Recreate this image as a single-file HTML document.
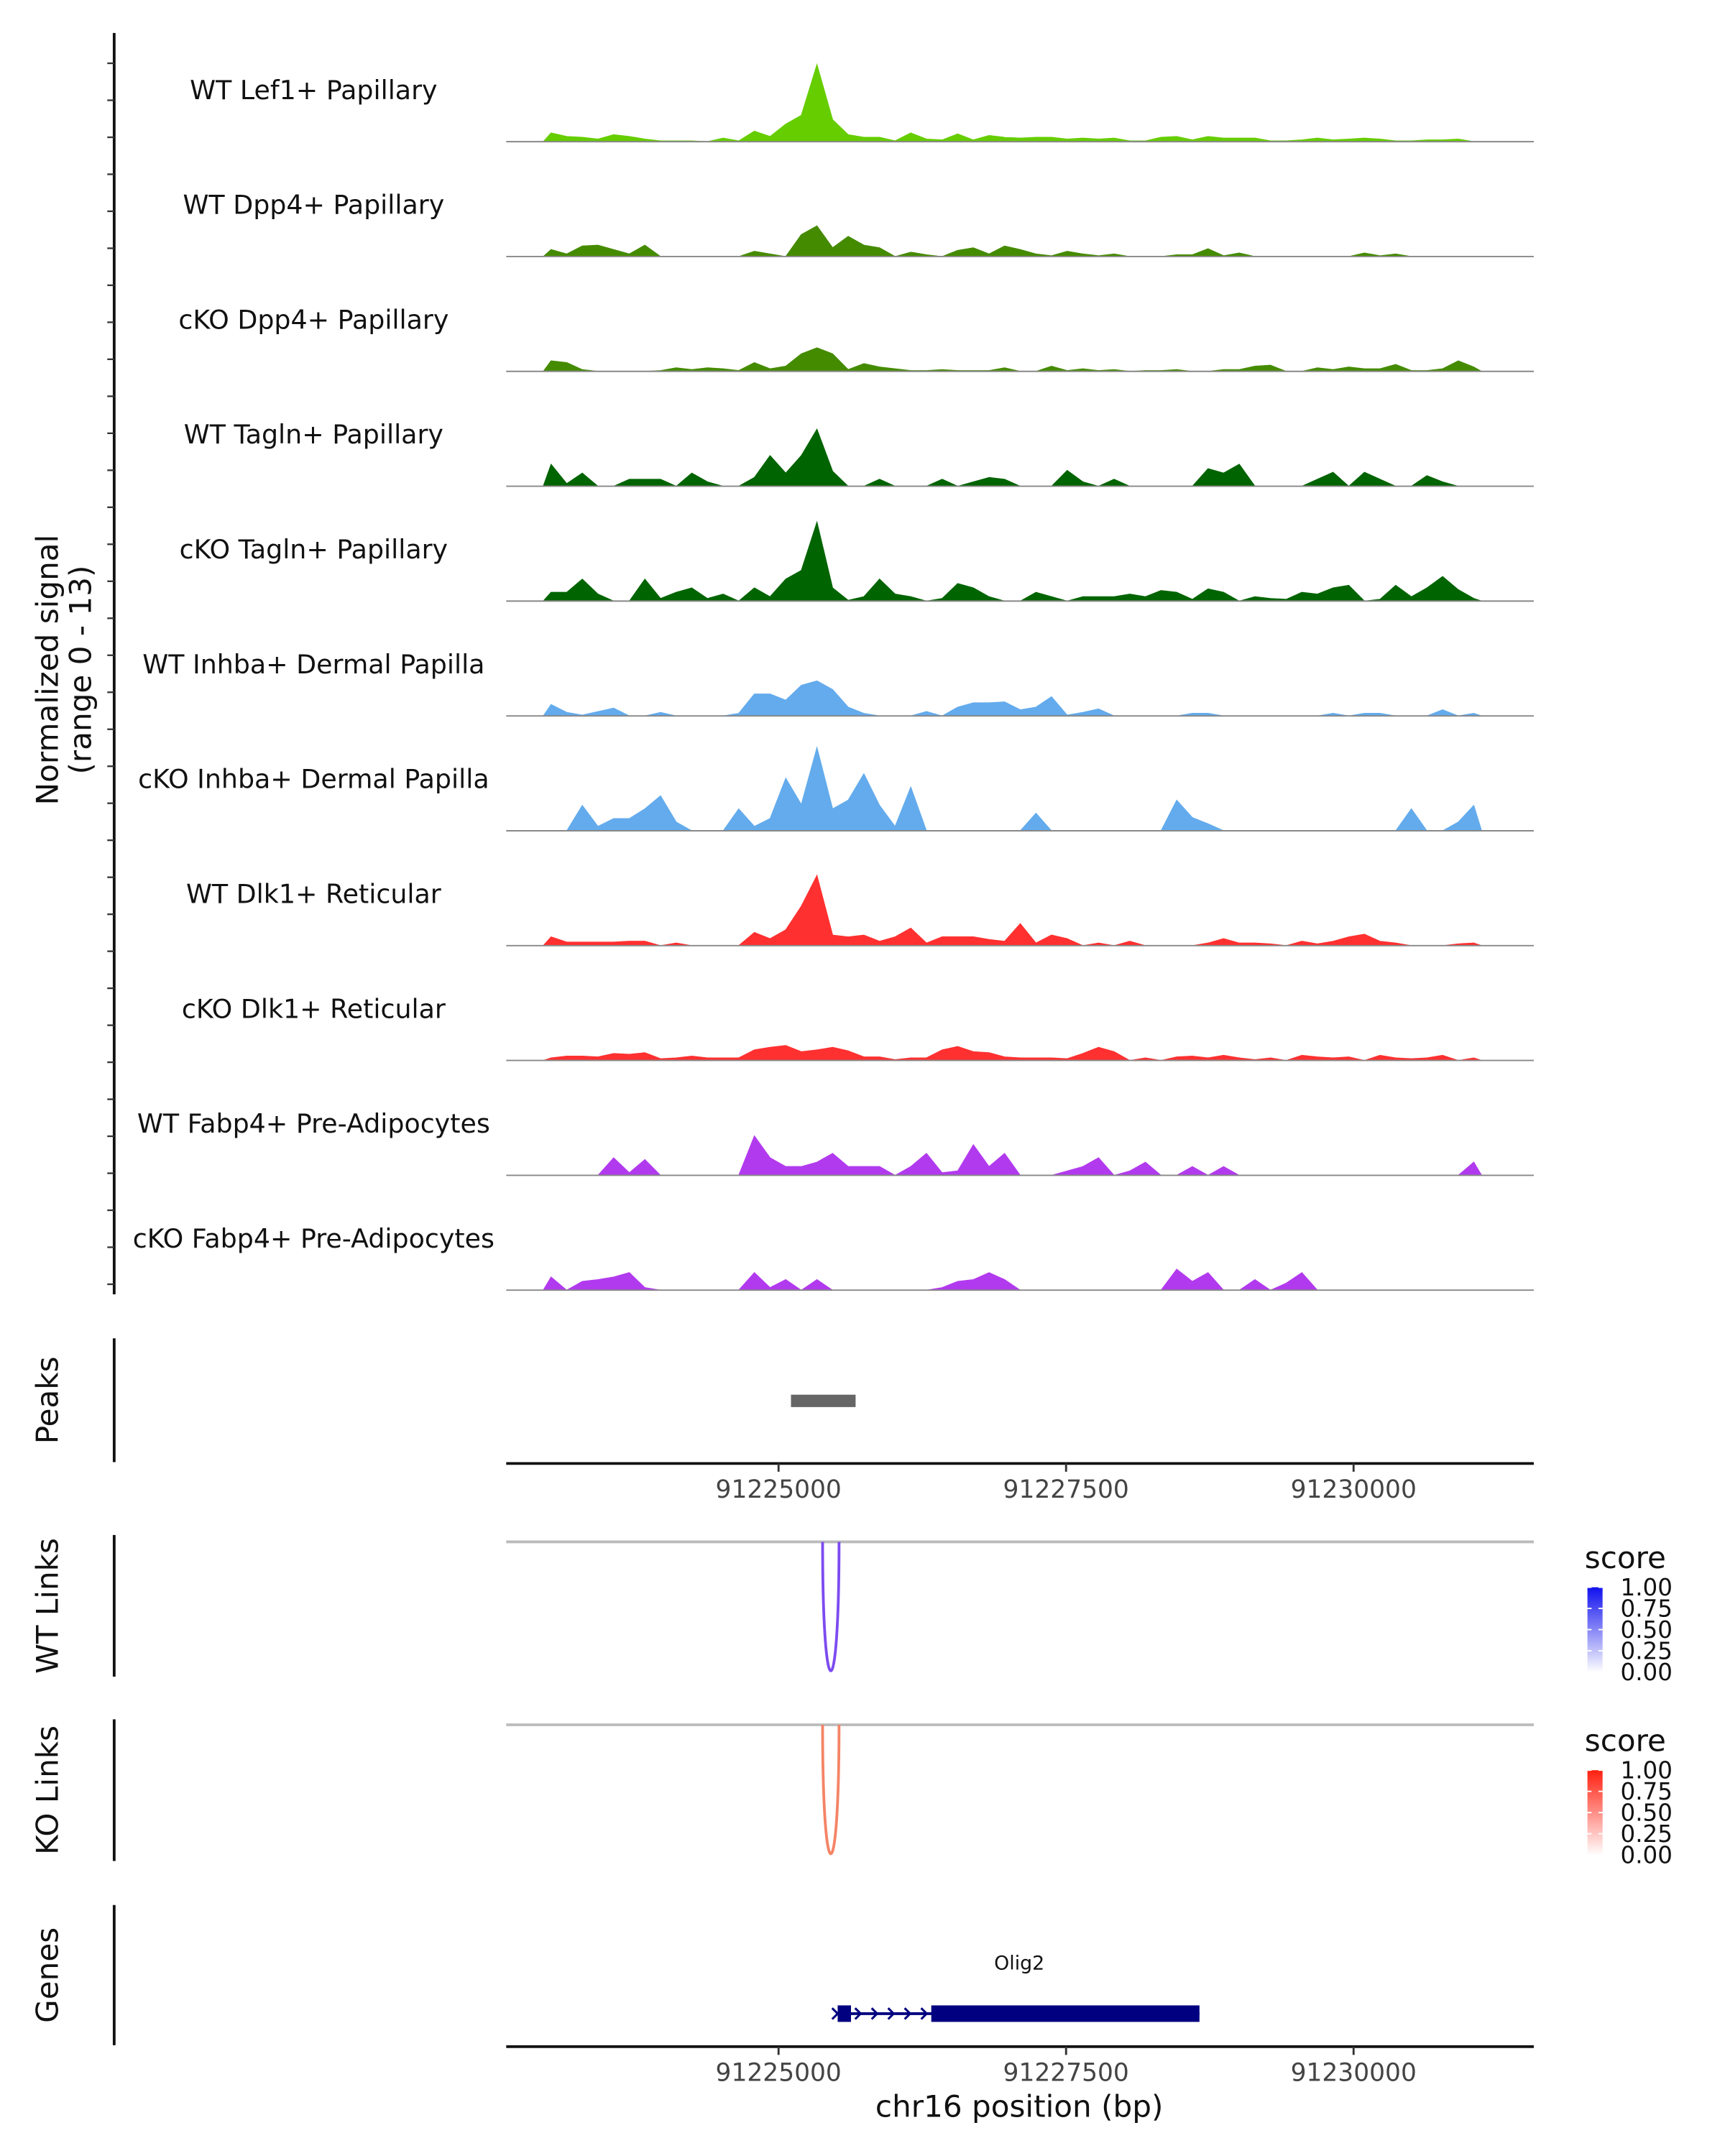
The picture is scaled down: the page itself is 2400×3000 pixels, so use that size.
<!DOCTYPE html>
<html><head><meta charset="utf-8"><style>
html,body{margin:0;padding:0;background:#fff}
svg{display:block}
text{font-family:"DejaVu Sans","Liberation Sans",sans-serif}
</style></head><body>
<svg id="chart" width="2400" height="3000" viewBox="0 0 1254 1567.5" xmlns="http://www.w3.org/2000/svg">
<g id="tracks"></g>
<g id="ytitle">
<text x="42" y="487" font-size="22" text-anchor="middle" fill="#111" transform="rotate(-90 42 487)">Normalized signal</text>
<text x="66" y="487" font-size="22" text-anchor="middle" fill="#111" transform="rotate(-90 66 487)">(range 0 - 13)</text>
</g>
<g id="others"></g>
</svg>
<script>
const NS='http://www.w3.org/2000/svg';
// ---- data ----
const trackNames=["WT Lef1+ Papillary","WT Dpp4+ Papillary","cKO Dpp4+ Papillary","WT Tagln+ Papillary","cKO Tagln+ Papillary","WT Inhba+ Dermal Papilla","cKO Inhba+ Dermal Papilla","WT Dlk1+ Reticular","cKO Dlk1+ Reticular","WT Fabp4+ Pre-Adipocytes","cKO Fabp4+ Pre-Adipocytes"];
const trackColors=["#66CD00","#458B00","#458B00","#006400","#006400","#63ABEC","#63ABEC","#FF3030","#FF3030","#B23AEE","#B23AEE"];
const binStart=91222954;
const binWidth=136;
const sigLef1WT=[1.0,0.6,0.5,0.3,0.8,0.6,0.3,0.1,0.1,0.1,0,0.4,0.1,1.2,0.6,2.0,3.0,8.8,2.5,0.8,0.5,0.5,0.1,1.0,0.3,0.2,0.9,0.2,0.7,0.5,0.4,0.5,0.5,0.3,0.4,0.3,0.4,0.1,0.1,0.5,0.6,0.2,0.6,0.4,0.4,0.4,0.1,0.1,0.2,0.4,0.2,0.3,0.4,0.3,0.1,0.1,0.2,0.2,0.3,0];
const sigDpp4WT=[0.8,0.3,1.2,1.3,0.8,0.3,1.3,0,0,0,0,0,0,0.6,0.3,0,2.5,3.5,1.0,2.3,1.3,1.0,0,0.5,0.2,0,0.7,1.0,0.3,1.2,0.8,0.3,0.1,0.6,0.3,0.1,0.3,0,0,0,0.2,0.2,0.9,0.1,0.4,0,0,0,0,0,0,0,0.4,0.1,0.3,0,0,0,0,0];
const sigDpp4KO=[1.2,1.0,0.2,0,0,0,0,0.1,0.4,0.2,0.4,0.3,0.1,1.0,0.3,0.6,2.0,2.7,2.0,0.2,0.9,0.5,0.3,0.1,0.1,0.2,0.1,0.1,0.1,0.4,0,0,0.6,0.1,0.3,0.1,0.2,0,0.1,0.1,0.2,0,0,0.2,0.2,0.6,0.7,0,0,0.4,0.2,0.5,0.3,0.3,0.8,0.1,0.1,0.3,1.2,0.5];
const sigTaglnWT=[2.5,0.3,1.5,0,0,0.8,0.8,0.8,0,1.5,0.5,0,0,1.0,3.5,1.5,3.5,6.5,1.7,0,0,0.8,0,0,0,0.8,0,0.5,1.0,0.8,0,0,0,1.8,0.5,0,0.8,0,0,0,0,0,2.0,1.5,2.5,0,0,0,0,0.8,1.6,0,1.6,0.8,0,0,1.2,0.5,0,0];
const sigTaglnKO=[1.0,1.0,2.5,0.8,0,0,2.5,0.3,1.0,1.5,0.3,0.8,0,1.5,0.5,2.5,3.5,9.0,1.5,0.1,0.5,2.5,0.8,0.5,0,0.3,2.0,1.5,0.5,0,0,1.0,0.5,0,0.5,0.5,0.5,0.8,0.5,1.2,1.0,0.2,1.4,1.0,0,0.5,0.3,0.2,1.0,0.8,1.5,1.8,0,0.2,1.8,0.5,1.5,2.8,1.3,0.3];
const sigInhbaWT=[1.3,0.4,0.1,0.5,0.9,0,0,0.4,0,0,0,0,0.3,2.5,2.5,1.8,3.5,4.0,3.0,1.0,0.3,0,0,0,0.5,0,1.0,1.5,1.5,1.6,0.7,1.0,2.2,0.1,0.4,0.8,0,0,0,0,0,0.3,0.3,0,0,0,0,0,0,0,0.3,0,0.3,0.3,0,0,0,0.7,0,0.3];
const sigInhbaKO=[0,0,2.9,0.5,1.4,1.4,2.5,4.0,1.0,0,0,0,2.5,0.5,1.4,6.0,3.0,9.5,2.5,3.5,6.5,2.9,0.5,5.0,0,0,0,0,0,0,0,2.0,0,0,0,0,0,0,0,0,3.5,1.5,0.8,0,0,0,0,0,0,0,0,0,0,0,0,2.5,0,0,1.0,2.9];
const sigDlk1WT=[1.0,0.4,0.4,0.4,0.4,0.5,0.5,0,0.3,0,0,0,0,1.5,0.8,1.8,4.5,8.0,1.2,1.0,1.2,0.5,1.0,2.0,0.3,1.0,1.0,1.0,0.7,0.5,2.5,0.3,1.2,0.8,0,0.3,0,0.5,0,0,0,0,0.3,0.8,0.3,0.3,0.2,0,0.5,0.2,0.5,1.0,1.3,0.5,0.3,0,0,0,0.2,0.3];
const sigDlk1KO=[0.3,0.5,0.5,0.4,0.8,0.7,0.9,0.2,0.3,0.5,0.3,0.3,0.3,1.2,1.5,1.7,1.0,1.2,1.5,1.1,0.4,0.4,0.1,0.3,0.3,1.2,1.6,1.0,0.9,0.4,0.3,0.3,0.3,0.2,0.8,1.5,1.0,0,0.3,0,0.4,0.5,0.3,0.6,0.3,0.1,0.3,0,0.6,0.4,0.3,0.4,0,0.6,0.3,0.2,0.3,0.6,0,0.3];
const sigFabp4WT=[0,0,0,0,2.0,0.3,1.8,0,0,0,0,0,0,4.5,2.0,1.0,1.0,1.5,2.5,1.0,1.0,1.0,0,1.0,2.5,0.3,0.5,3.5,1.0,2.5,0,0,0,0.5,1.0,2.0,0,0.5,1.5,0,0,1.0,0,1.0,0,0,0,0,0,0,0,0,0,0,0,0,0,0,0,1.5];
const sigFabp4KO=[1.5,0,1.0,1.2,1.5,2.0,0.3,0,0,0,0,0,0,2.0,0.3,1.2,0,1.2,0,0,0,0,0,0,0,0.3,1.0,1.2,2.0,1.2,0,0,0,0,0,0,0,0,0,0,2.4,1.0,2.0,0,0,1.2,0,0.8,2.0,0,0,0,0,0,0,0,0,0,0,0];
const trackSignals=[sigLef1WT,sigDpp4WT,sigDpp4KO,sigTaglnWT,sigTaglnKO,sigInhbaWT,sigInhbaKO,sigDlk1WT,sigDlk1KO,sigFabp4WT,sigFabp4KO];
const xTicks=[91225000,91227500,91230000];
const xTickLabels=["91225000","91227500","91230000"];
const peakRegion=[91225108,91225670];
const wtLink=[91225383,91225526];
const wtLinkScore=[0.7];
const koLink=[91225383,91225526];
const koLinkScore=[0.6];
const geneSpan=[91225514,91228660];
const geneThickStart=[91225514,91226328];
const geneThickEnd=[91225630,91228660];
const legendTicks=["1.00","0.75","0.50","0.25","0.00"];
// ---- scales ----
const X0=368,X1=1115,BP0=91222632,BP1=91231567;
function xs(bp){return X0+(bp-BP0)/(BP1-BP0)*(X1-X0);}
const yMax=13,trackH=83.5;
function ys(v){return v/yMax*83;}
const svg=document.getElementById('chart');
const tg=document.getElementById('tracks');
const og=document.getElementById('others');
function mk(tag,attrs,parent){const e=document.createElementNS(NS,tag);for(const k in attrs)e.setAttribute(k,attrs[k]);(parent||svg).appendChild(e);return e;}
let ax=mk('line',{x1:83,y1:24,x2:83,y2:941,stroke:'#111','stroke-width':2},tg);


for(let t=0;t<34;t++){const y=46+t*26.9;if(y>941)break;const tk=mk('line',{x1:78,y1:y,x2:83,y2:y,stroke:'#333','stroke-width':1.2},tg);

}
trackNames.forEach((nm,k)=>{
 const base=103+k*trackH;
 const g=mk('g',{},tg);
 
 
 const vals=trackSignals[k];
 let d='M'+xs(binStart).toFixed(1)+','+base;
 vals.forEach((v,i)=>{const cx=xs(binStart+(i+0.5)*binWidth);d+=' L'+cx.toFixed(1)+','+(base-ys(v)).toFixed(1);});
 d+=' L'+xs(binStart+vals.length*binWidth).toFixed(1)+','+base+' Z';
 const p=mk('path',{d:d,fill:trackColors[k],stroke:trackColors[k],'stroke-width':0.5},g);
 
 
 const bl=mk('line',{x1:X0,y1:base,x2:X1,y2:base,stroke:'#888','stroke-width':1},g);
 
 
 const lb=mk('text',{x:228,y:base-31,'font-size':19,'text-anchor':'middle',fill:'#111'},g);
 lb.textContent=nm;
 
 
});
function panelAxis(y1,y2,label,name){
 const a=mk('line',{x1:83,y1:y1,x2:83,y2:y2,stroke:'#111','stroke-width':2},og);
 
 
 const cy=(y1+y2)/2;
 const t=mk('text',{x:42,y:cy,'font-size':22,'text-anchor':'middle',fill:'#111',transform:'rotate(-90 42 '+cy+')'},og);
 t.textContent=label;
 
 
}
panelAxis(973,1063,'Peaks','peaks');
panelAxis(1116,1219,'WT Links','wt-links');
panelAxis(1250,1353,'KO Links','ko-links');
panelAxis(1385,1487,'Genes','genes');
const pk=mk('rect',{x:xs(peakRegion[0]),y:1014,width:xs(peakRegion[1])-xs(peakRegion[0]),height:9,fill:'#666'},og);


function xAxis(y,name){
 const l=mk('line',{x1:X0,y1:y,x2:X1,y2:y,stroke:'#111','stroke-width':2},og);
 
 
 xTicks.forEach((b,i)=>{const x=xs(b);
  const tk=mk('line',{x1:x,y1:y,x2:x,y2:y+6,stroke:'#333','stroke-width':1.5},og);
  
  
  const tl=mk('text',{x:x,y:y+25,'font-size':18,'text-anchor':'middle',fill:'#444'},og);
  tl.textContent=xTickLabels[i];
  
  });
}
xAxis(1064,'peaks-x-axis');
xAxis(1488,'genes-x-axis');
const xt=mk('text',{x:741,y:1539,'font-size':22,'text-anchor':'middle',fill:'#111'},og);
xt.textContent='chr16 position (bp)';


function linkPanel(top,link,score,col,c1,name){
 const gl=mk('line',{x1:X0,y1:top,x2:X1,y2:top,stroke:'#bbb','stroke-width':2},og);
 
 
 const a=xs(link[0]),b=xs(link[1]);const depth=94;
 const arc=mk('path',{d:'M'+a+','+top+' C'+a+','+(top+depth*1.33)+' '+b+','+(top+depth*1.33)+' '+b+','+top,fill:'none',stroke:col,'stroke-width':2},og);
 
 
 const st=top-7;
 const t=mk('text',{x:1152,y:st+26,'font-size':22,fill:'#111'},og);
 t.textContent='score';
 
 
 const gid='grad'+name;
 const defs=mk('defs',{},og);
 const lg=mk('linearGradient',{id:gid,x1:0,y1:0,x2:0,y2:1},defs);
 mk('stop',{offset:'0','stop-color':c1},lg);
 mk('stop',{offset:'1','stop-color':'#ffffff'},lg);
 const r=mk('rect',{x:1154,y:st+40,width:11,height:62,fill:'url(#'+gid+')'},og);
 
 
 legendTicks.forEach((lab,i)=>{const yy=st+40+i*15.4;
  const tt=mk('text',{x:1178,y:yy+6,'font-size':17,fill:'#111'},og);
  tt.textContent=lab;
  
  
  mk('line',{x1:1154,y1:yy,x2:1157,y2:yy,stroke:'#fff','stroke-width':1},og);
  mk('line',{x1:1162,y1:yy,x2:1165,y2:yy,stroke:'#fff','stroke-width':1},og);});
}
linkPanel(1121,wtLink,wtLinkScore,'#7D4BF0','#1010ee','wt-links');
linkPanel(1254,koLink,koLinkScore,'#F48466','#ff2010','ko-links');
const gy=1464;
const gg=mk('g',{},og);


mk('line',{x1:xs(geneSpan[0]),y1:gy,x2:xs(geneSpan[1]),y2:gy,stroke:'#000080','stroke-width':2},gg);
geneThickStart.forEach((s,i)=>{mk('rect',{x:xs(s),y:gy-6,width:xs(geneThickEnd[i])-xs(s),height:12,fill:'#000080'},gg);});
for(let a=xs(geneThickEnd[0])+6;a<xs(geneThickStart[1])-4;a+=12){mk('path',{d:'M'+(a-3)+','+(gy-4)+' L'+(a+1)+','+gy+' L'+(a-3)+','+(gy+4),fill:'none',stroke:'#000080','stroke-width':1.6},gg);}
mk('path',{d:'M'+(xs(geneSpan[0])-4)+','+(gy-4)+' L'+xs(geneSpan[0])+','+gy+' L'+(xs(geneSpan[0])-4)+','+(gy+4),fill:'none',stroke:'#000080','stroke-width':1.6},gg);
const gl=mk('text',{x:741,y:1432,'font-size':14,'text-anchor':'middle',fill:'#111'},og);
gl.textContent='Olig2';


</script>
</body></html>
